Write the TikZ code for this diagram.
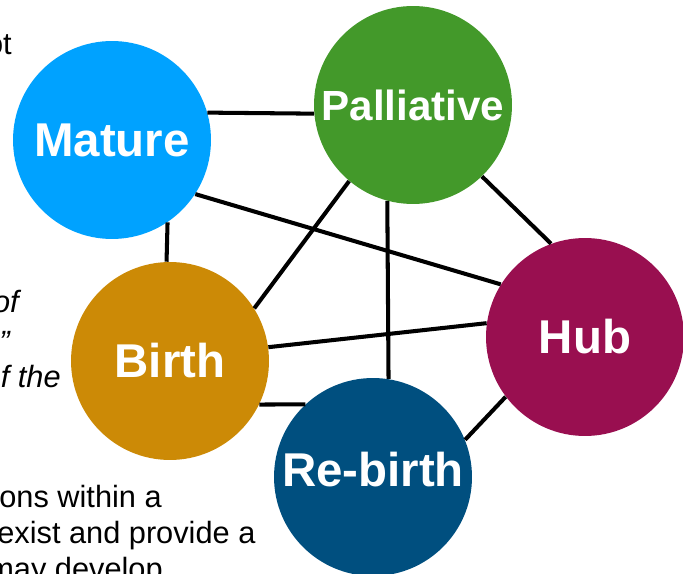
\documentclass[tikz,border=0pt]{standalone}
\usepackage{fontspec}
\setmainfont{Liberation Sans}
\usepackage{xcolor}
\usetikzlibrary{positioning,calc}

\definecolor{maturecol}{HTML}{00A2FF}
\definecolor{palliativecol}{HTML}{43992A}
\definecolor{hubcol}{HTML}{990F50}
\definecolor{birthcol}{HTML}{CC8A06}
\definecolor{rebirthcol}{HTML}{004F7F}

\begin{document}
\begin{tikzpicture}[x=0.02cm, y=-0.02cm,
    stage/.style={circle, minimum size=3.96cm, inner sep=0pt, text=white,
      font=\fontsize{27}{27}\selectfont\bfseries},
    link/.style={line width=2.3pt},
    body/.style={inner sep=0pt, font=\fontsize{17.5}{20}\selectfont}]
  \clip (0,0) rectangle (683,574);

  % Stage circles
  \node[stage, fill=maturecol] (mature) at (112,140) {Mature};
  \node[stage, fill=palliativecol, font=\fontsize{24}{24}\selectfont\bfseries] (palliative) at (413,105) {Palliative};
  \node[stage, fill=hubcol] (hub) at (585,337) {Hub};
  \node[stage, fill=birthcol] (birth) at (170,361) {Birth};
  \node[stage, fill=rebirthcol] (rebirth) at (373,477) {};
  \node[text=white, font=\fontsize{27}{27}\selectfont\bfseries] (rebirthtext) at ([yshift=0.14cm]rebirth.center) {Re-birth};

  % Links between stages
  \draw[link] (mature.16) -- (palliative.185);
  \draw[link] (mature.-33) -- (hub.148);
  \draw[link] (mature.-56) -- (birth.92);
  \draw[link] (palliative.-130) -- (birth.32);
  \draw[link] (palliative.-105) -- (rebirth.81);
  \draw[link] (palliative.-46) -- (hub.110);
  \draw[link] (birth.8) -- (hub.172);
  \draw[link] (birth.-26) -- (rebirth.133);
  \draw[link] (rebirth.22) -- (hub.-143);

  % Cut-off text on the left
  \node[body, anchor=base east] (textot) at (12,55) {ot};
  \node[body, anchor=base east, font=\fontsize{17.5}{20}\selectfont\itshape] (textof) at (19,313) {of};
  \node[body, anchor=base east, font=\fontsize{17.5}{20}\selectfont\itshape] (textquote) at (10,352) {”};
  \node[body, anchor=base east, font=\fontsize{17.5}{20}\selectfont\itshape] (textthe) at (61,387) {f the};
  \node[body, anchor=base west] (textwithin) at (-1,507) {ons within a};
  \node[body, anchor=base west] (textexist) at (-3,543) {exist and provide a};
  \node[body, anchor=base west] (textdevelop) at (-12,579) {may develop};
\end{tikzpicture}
\end{document}
